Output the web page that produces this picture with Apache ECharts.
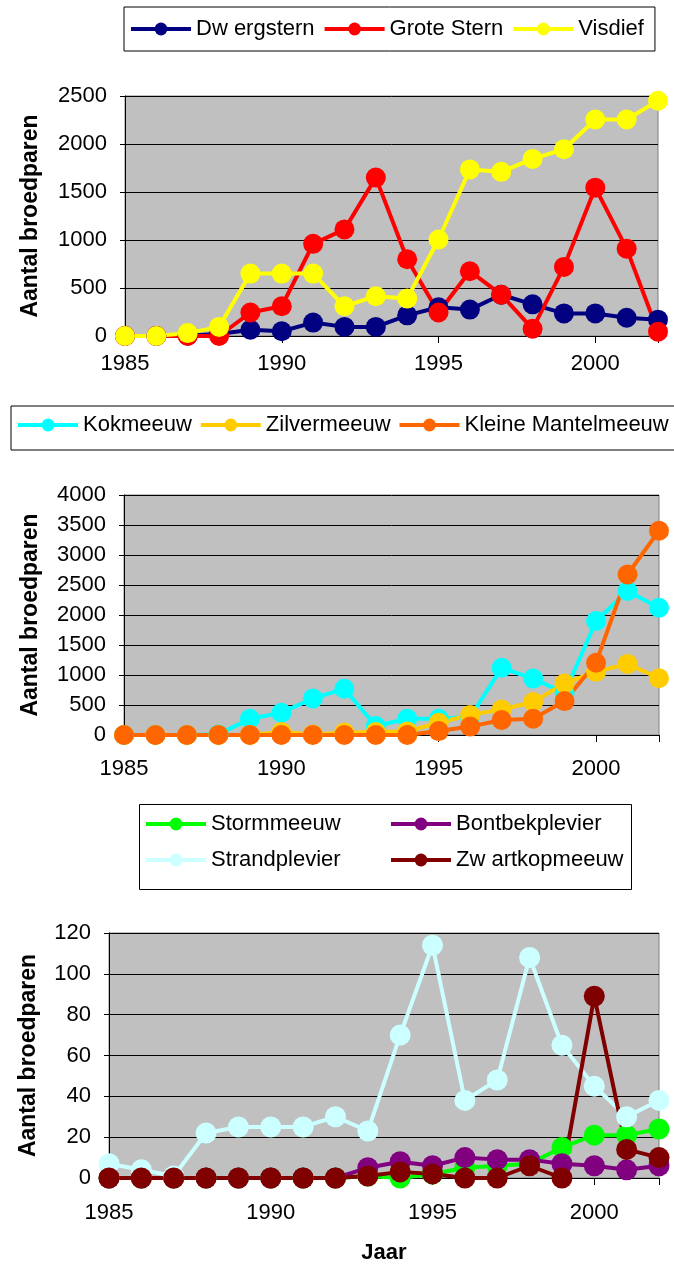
<!DOCTYPE html>
<html>
<head>
<meta charset="utf-8">
<script src="https://cdn.jsdelivr.net/npm/echarts@6/dist/echarts.min.js"></script>
<style>
  html, body { margin: 0; padding: 0; background: #fff; }
  #chart { width: 674px; height: 1265px; }
</style>
</head>
<body>
<div id="chart"></div>
<script>
// jaren 1985 - 2002
var years = [1985, 1986, 1987, 1988, 1989, 1990, 1991, 1992, 1993, 1994, 1995, 1996, 1997, 1998, 1999, 2000, 2001, 2002];

// grafiek 1: sterns
var dwergstern = [0, 0, 5, 20, 65, 50, 140, 95, 95, 215, 300, 275, 430, 330, 235, 235, 190, 170];
var groteStern = [0, 0, 0, 0, 245, 310, 960, 1110, 1650, 800, 245, 675, 430, 75, 720, 1545, 910, 45];
var visdief = [0, 0, 30, 95, 650, 650, 650, 310, 415, 390, 1005, 1735, 1710, 1845, 1945, 2255, 2255, 2450];

// grafiek 2: meeuwen
var kokmeeuw = [0, 0, 0, 10, 270, 370, 610, 770, 150, 270, 270, 300, 1120, 940, 700, 1900, 2400, 2120];
var zilvermeeuw = [0, 0, 0, 0, 0, 50, 10, 40, 50, 60, 205, 335, 425, 550, 860, 1055, 1185, 945];
var kleineMantelmeeuw = [0, 0, 0, 0, 0, 0, 0, 0, 0, 0, 65, 140, 250, 270, 565, 1205, 2675, 3405];

// grafiek 3: overige soorten
var stormmeeuw = [0, 0, 0, 0, 0, 0, 0, 0, 1, 0, 2, 5, 6, 7, 15, 21, 21, 24];
var bontbekplevier = [0, 0, 0, 0, 0, 0, 0, 0, 5, 8, 6, 10, 9, 9, 7, 6, 4, 6];
var strandplevier = [7, 4, 1, 22, 25, 25, 25, 30, 23, 70, 114, 38, 48, 108, 65, 45, 30, 38];
var zwartkopmeeuw = [0, 0, 0, 0, 0, 0, 0, 0, 1, 3, 2, 0, 0, 6, 0, 89, 14, 10];

var FONT = "Liberation Sans, Arial, sans-serif";

function pairs(arr) {
  return years.map(function (y, i) { return [y, arr[i]]; });
}

function lineSeries(name, color, values, idx, size) {
  return {
    name: name,
    type: "line",
    xAxisIndex: idx,
    yAxisIndex: idx,
    data: pairs(values),
    symbol: "circle",
    symbolSize: size,
    showAllSymbol: true,
    clip: false,
    color: color,
    lineStyle: { color: color, width: 4 },
    itemStyle: { color: color },
    emphasis: { disabled: true },
    animation: false
  };
}

function xAxis(idx, margin, extra) {
  var ax = {
    type: "value",
    gridIndex: idx,
    min: 1985,
    max: 2002,
    interval: 5,
    axisLine: { show: true, lineStyle: { color: "#000", width: 1 } },
    axisTick: { show: true, length: 7, lineStyle: { color: "#000" } },
    axisLabel: {
      color: "#000", fontSize: 22, fontFamily: FONT, margin: margin,
      formatter: function (v) { return v % 5 === 0 ? String(v) : ""; }
    },
    splitLine: { show: false }
  };
  if (extra) Object.assign(ax, extra);
  return ax;
}

function yAxis(idx, max, interval, gap) {
  return {
    type: "value",
    gridIndex: idx,
    min: 0,
    max: max,
    interval: interval,
    name: "Aantal broedparen",
    nameLocation: "middle",
    nameGap: gap,
    nameTextStyle: { color: "#000", fontSize: 23, fontWeight: "bold", fontFamily: FONT },
    axisLine: { show: true, lineStyle: { color: "#000", width: 1 } },
    axisTick: { show: true, length: 5, lineStyle: { color: "#000" } },
    axisLabel: {
      color: "#000", fontSize: 22, fontFamily: FONT, margin: 18,
      formatter: function (v) { return String(v); }
    },
    splitLine: { show: true, lineStyle: { color: "#000", width: 1 } }
  };
}

function grid(left, top, width, height) {
  return {
    left: left, top: top, width: width, height: height,
    outerBoundsMode: "none",
    show: true, backgroundColor: "#C0C0C0", borderColor: "#808080", borderWidth: 1
  };
}

var legendBase = {
  itemWidth: 60,
  itemHeight: 16,
  itemGap: 8,
  textStyle: { color: "#000", fontSize: 22, fontFamily: FONT },
  lineStyle: { width: 4 },
  selectedMode: false,
  borderColor: "#000",
  borderWidth: 1
};

function legend(opts) {
  return Object.assign({}, legendBase, opts);
}

var chart = echarts.init(document.getElementById("chart"));

var option = {
  backgroundColor: "#fff",
  animation: false,
  grid: [
    grid(125, 96, 533, 240),
    grid(124, 495, 535, 240),
    grid(109, 933, 550, 245)
  ],
  xAxis: [
    xAxis(0, 17),
    xAxis(1, 23),
    xAxis(2, 24, {
      name: "Jaar",
      nameLocation: "middle",
      nameGap: 64,
      nameTextStyle: { color: "#000", fontSize: 22, fontWeight: "bold", fontFamily: FONT }
    })
  ],
  yAxis: [
    yAxis(0, 2500, 500, 83),
    yAxis(1, 4000, 500, 82),
    yAxis(2, 120, 20, 69)
  ],
  legend: [
    legend({ left: 124, top: 7, padding: [11, 11, 11, 5], data: ["Dw ergstern", "Grote Stern", "Visdief"] }),
    legend({ left: 11, top: 406, width: 720, itemGap: 7, padding: [8, 13, 14, 5], data: ["Kokmeeuw", "Zilvermeeuw", "Kleine Mantelmeeuw"] }),
    legend({ left: 144, top: 813, orient: "vertical", itemGap: 14, padding: 0, borderWidth: 0, data: ["Stormmeeuw", "Strandplevier"] }),
    legend({ left: 389, top: 813, orient: "vertical", itemGap: 14, padding: 0, borderWidth: 0, data: ["Bontbekplevier", "Zw artkopmeeuw"] })
  ],
  graphic: [
    {
      type: "rect",
      shape: { x: 139.5, y: 804.5, width: 492, height: 85 },
      style: { fill: "none", stroke: "#000", lineWidth: 1 },
      z: 100
    }
  ],
  series: [
    lineSeries("Dw ergstern", "#000080", dwergstern, 0, 20),
    lineSeries("Grote Stern", "#FF0000", groteStern, 0, 20),
    lineSeries("Visdief", "#FFFF00", visdief, 0, 20),

    lineSeries("Kokmeeuw", "#00FFFF", kokmeeuw, 1, 20),
    lineSeries("Zilvermeeuw", "#FFCC00", zilvermeeuw, 1, 20),
    lineSeries("Kleine Mantelmeeuw", "#FF6600", kleineMantelmeeuw, 1, 20),

    lineSeries("Stormmeeuw", "#00FF00", stormmeeuw, 2, 21),
    lineSeries("Bontbekplevier", "#800080", bontbekplevier, 2, 21),
    lineSeries("Strandplevier", "#CCFFFF", strandplevier, 2, 21),
    lineSeries("Zw artkopmeeuw", "#800000", zwartkopmeeuw, 2, 21)
  ]
};

chart.setOption(option);
</script>
</body>
</html>
